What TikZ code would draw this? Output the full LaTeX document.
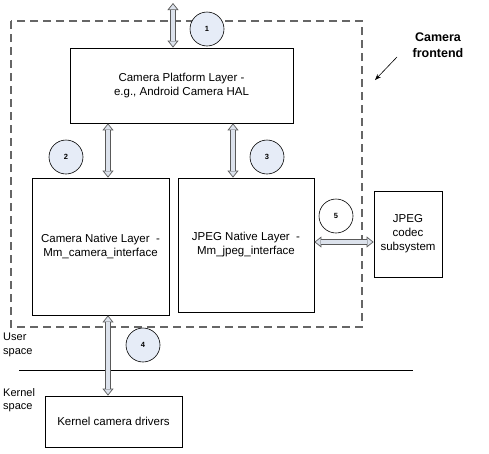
\documentclass[tikz,border=0pt]{standalone}
\usepackage{fontspec}
\setmainfont{Liberation Sans}
\usetikzlibrary{arrows.meta,positioning}
\definecolor{bubble}{HTML}{E6ECF7}
\definecolor{pipe}{HTML}{DCE2EC}
% hollow two-way pipe between two points
\newcommand{\dblpipe}[2]{%
  \draw[pipehead] (#1) -- (#2);
  \draw[pipeshaft] (#1) -- (#2);
}
\begin{document}
\begin{tikzpicture}[x=1pt, y=-1pt,
    layer/.style={rectangle, draw, line width=0.8pt, fill=white, align=center, font=\fontsize{11.5}{14}\selectfont},
    num/.style={circle, draw, line width=0.6pt, fill=bubble, minimum size=34pt, inner sep=0pt, font=\bfseries\fontsize{7.5}{8}\selectfont},
    pipehead/.style={line width=0.7pt, draw=black!65, {Triangle[length=7pt, width=11pt, fill=pipe]}-{Triangle[length=7pt, width=11pt, fill=pipe]}},
    pipeshaft/.style={double=pipe, double distance=4pt, line width=0.7pt, draw=black!65, shorten <=6.6pt, shorten >=6.6pt},
    side/.style={align=left, font=\fontsize{11}{13.5}\selectfont}
]
    \useasboundingbox (0,0) rectangle (489,453);

    % Camera frontend area
    \draw[dashed, dash pattern=on 8pt off 5pt, line width=1.1pt, black!60] (11,21) rectangle (362,327);
    \node[font=\bfseries\fontsize{12.5}{16}\selectfont, align=center] (front) at (438,45) {Camera\\frontend};
    \coordinate (frontfrom) at (397,57);
    \coordinate (fronttip) at (375,80);
    \draw[-{Stealth[length=6pt]}, line width=0.6pt] (frontfrom) -- (fronttip);

    % Layers
    \node[layer, minimum width=223pt, minimum height=75pt] (plat) at (181.5,85.5) {Camera Platform Layer -\\e.g., Android Camera HAL};
    \node[layer, minimum width=137pt, minimum height=137pt] (camnat) at (100.5,246.5) {Camera Native Layer\ \ -\\Mm\_camera\_interface};
    \node[layer, minimum width=136pt, minimum height=134pt] (jpgnat) at (246,245) {JPEG Native Layer\ \ -\\Mm\_jpeg\_interface};
    \node[layer, minimum width=68pt, minimum height=86pt] (codec) at (408,234) {JPEG\\codec\\subsystem};
    \node[layer, minimum width=137pt, minimum height=51pt] (kern) at (113.5,421.5) {Kernel camera drivers};

    % User / kernel split
    \coordinate (splitL) at (19,370);
    \coordinate (splitR) at (413,370);
    \draw[line width=0.7pt] (splitL) -- (splitR);
    \node[side, anchor=north west, inner sep=0pt] (user) at (3,333) {User\\space};
    \node[side, anchor=north west, inner sep=0pt] (kspace) at (3,388) {Kernel\\space};

    % Interfaces
    \coordinate (app) at (173,3);
    \dblpipe{app}{app |- plat.north}
    \dblpipe{[xshift=7.5pt]camnat.north}{[xshift=7.5pt]camnat.north |- plat.south}
    \dblpipe{[xshift=-13pt]jpgnat.north}{[xshift=-13pt]jpgnat.north |- plat.south}
    \dblpipe{[xshift=7.5pt]camnat.south}{[xshift=7.5pt]camnat.south |- kern.north}
    \dblpipe{jpgnat.east |- 0,242}{codec.west |- 0,242}

    % Numbers
    \node[num] (n1) at (207,29) {1};
    \node[num] (n2) at (66,157) {2};
    \node[num] (n3) at (267,157) {3};
    \node[num] (n4) at (143,345) {4};
    \node[num, fill=white] (n5) at (336,216) {5};
\end{tikzpicture}
\end{document}
